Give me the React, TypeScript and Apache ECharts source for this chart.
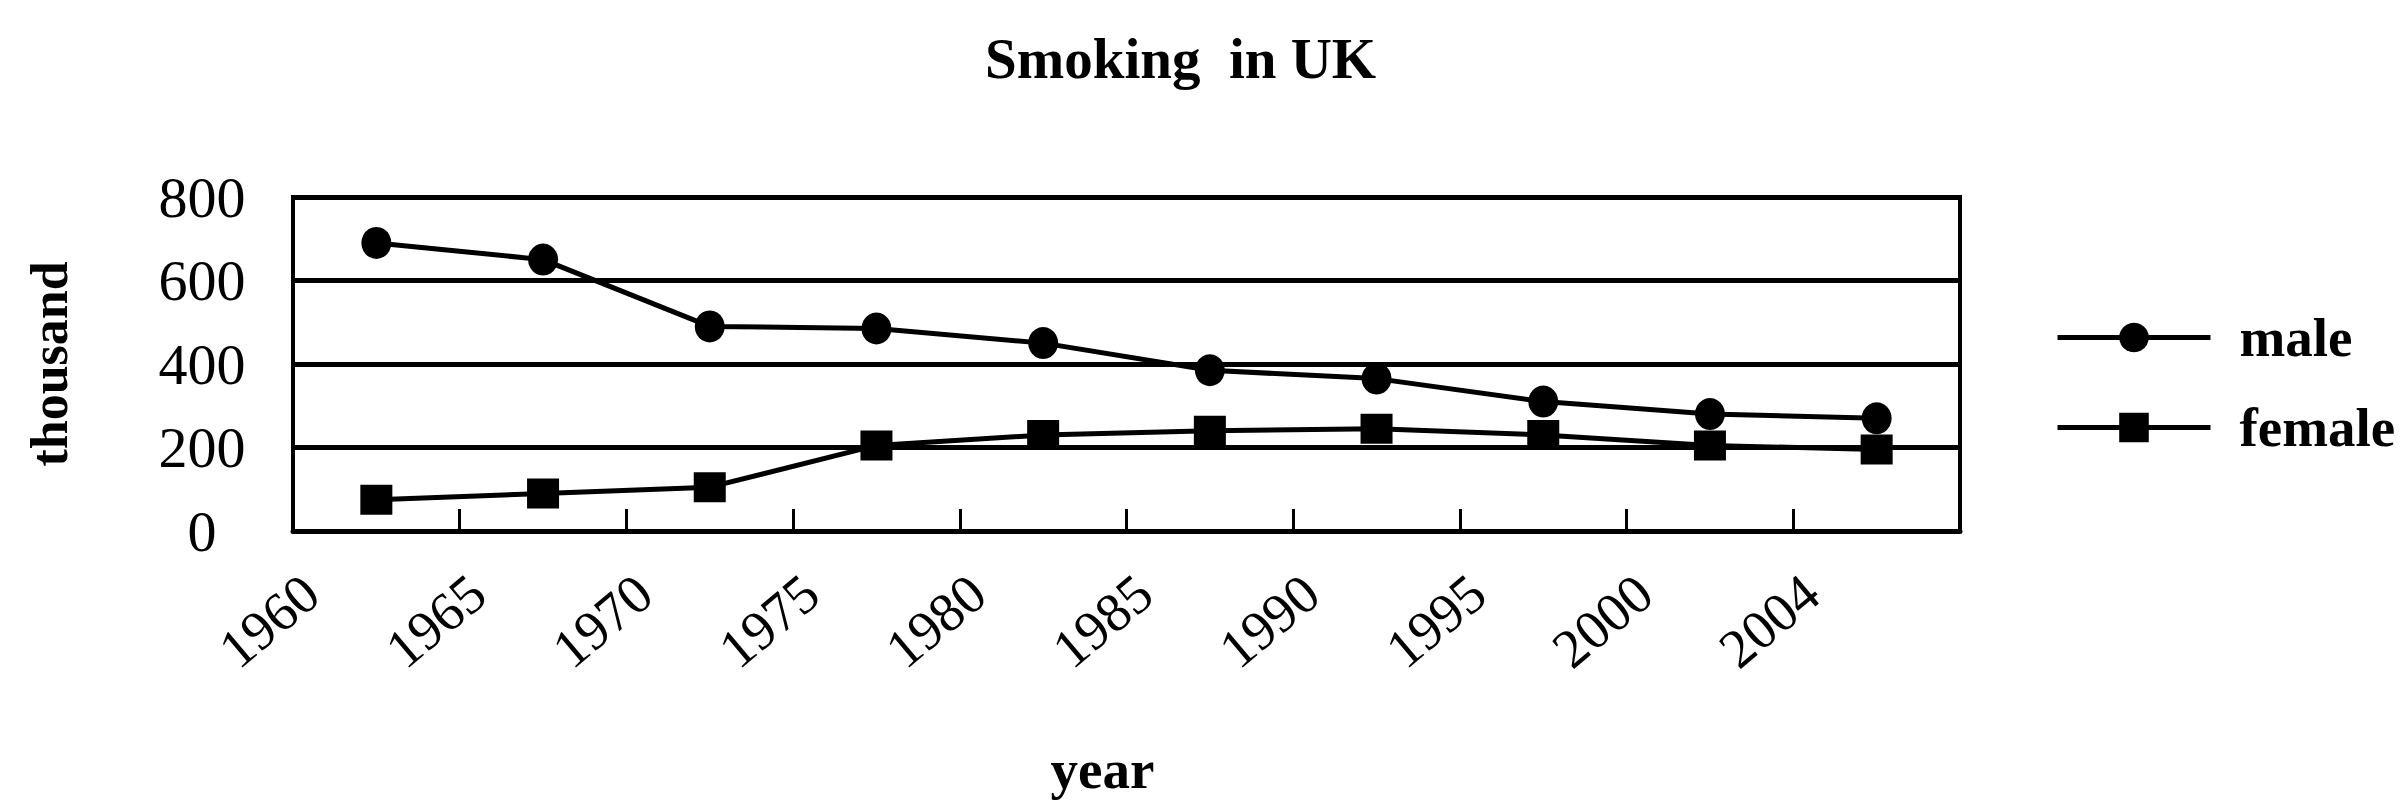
import React, { useEffect, useRef } from "react";
import * as echarts from "echarts";

const years = ["1960", "1965", "1970", "1975", "1980", "1985", "1990", "1995", "2000", "2004"];
const male = [690, 650, 490, 485, 450, 385, 365, 310, 280, 270];
const female = [75, 90, 105, 205, 230, 240, 245, 230, 205, 195];
const yTicks = [0, 200, 400, 600, 800];

const FONT = "'Liberation Serif', 'Times New Roman', serif";

export default function App() {
  const ref = useRef<HTMLDivElement>(null);

  useEffect(() => {
    if (!ref.current) return;
    const chart = echarts.init(ref.current, null, { renderer: "svg" });
    const gridTop = 197;
    const gridBottom = 271;
    const gridLeft = 293;
    const gridRight = 440;
    const labelShift = 24;
    chart.setOption({
      animation: false,
      backgroundColor: "#ffffff",
      title: {
        text: "Smoking  in UK",
        left: 985,
        top: 30,
        padding: 0,
        textStyle: { fontFamily: FONT, fontSize: 57, fontWeight: "bold", color: "#000" },
      },
      legend: {
        data: ["male", "female"],
        orient: "vertical",
        left: 2055,
        top: 310,
        padding: 0,
        itemWidth: 153,
        itemHeight: 37,
        itemGap: 35,
        lineStyle: { width: 5, color: "#000" },
        textStyle: {
          fontFamily: FONT,
          fontSize: 55,
          fontWeight: "bold",
          color: "#000",
          lineHeight: 55,
          padding: [0, 0, 0, 24],
        },
      },
      grid: [
        {
          left: gridLeft,
          right: gridRight,
          top: gridTop,
          bottom: gridBottom,
          show: true,
          borderColor: "#000",
          borderWidth: 4,
          backgroundColor: "transparent",
        },
        {
          left: gridLeft - labelShift,
          right: gridRight + labelShift,
          top: gridTop,
          bottom: gridBottom,
          show: false,
        },
      ],
      xAxis: [
        {
          type: "category",
          gridIndex: 0,
          data: years,
          boundaryGap: true,
          axisLine: { show: true, lineStyle: { color: "#000", width: 5 } },
          axisTick: { show: true, inside: true, length: 22, lineStyle: { color: "#000", width: 3 } },
          axisLabel: { show: false },
          splitLine: { show: false },
        },
        {
          type: "value",
          gridIndex: 1,
          min: 0,
          max: years.length,
          interval: 1,
          position: "bottom",
          axisLine: { show: false },
          axisTick: { show: false },
          splitLine: { show: false },
          axisLabel: {
            show: true,
            rotate: 40,
            align: "center",
            verticalAlign: "middle",
            margin: 90,
            fontFamily: FONT,
            fontSize: 55,
            color: "#000",
            formatter: (v: number) => years[v] ?? "",
          },
          name: "year",
          nameLocation: "middle",
          nameGap: 211,
          nameTextStyle: {
            fontFamily: FONT,
            fontSize: 55,
            fontWeight: "bold",
            color: "#000",
            lineHeight: 55,
          },
        },
      ],
      yAxis: [
        {
          type: "value",
          gridIndex: 0,
          min: yTicks[0],
          max: yTicks[yTicks.length - 1],
          interval: 200,
          axisLine: { show: true, lineStyle: { color: "#000", width: 4 } },
          axisTick: { show: false },
          splitLine: { show: true, lineStyle: { color: "#000", width: 5 } },
          axisLabel: {
            fontFamily: FONT,
            fontSize: 58,
            color: "#000",
            align: "center",
            margin: 91,
            padding: [20, 0, 0, 0],
          },
          name: "thousand",
          nameLocation: "middle",
          nameRotate: 90,
          nameGap: 218,
          nameTextStyle: { fontFamily: FONT, fontSize: 52, fontWeight: "bold", color: "#000" },
        },
        {
          type: "value",
          gridIndex: 1,
          min: 0,
          max: 1,
          show: false,
        },
      ],
      series: [
        {
          name: "male",
          type: "line",
          xAxisIndex: 0,
          yAxisIndex: 0,
          data: male,
          symbol: "circle",
          symbolSize: [30, 32],
          lineStyle: { color: "#000", width: 5 },
          itemStyle: { color: "#000" },
        },
        {
          name: "female",
          type: "line",
          xAxisIndex: 0,
          yAxisIndex: 0,
          data: female,
          symbol: "rect",
          symbolSize: [32, 30],
          lineStyle: { color: "#000", width: 5 },
          itemStyle: { color: "#000" },
        },
      ],
    });
    return () => chart.dispose();
  }, []);

  return (
    <div
      ref={ref}
      style={{ position: "fixed", left: 0, top: 0, width: 2400, height: 802, background: "#fff" }}
    />
  );
}
